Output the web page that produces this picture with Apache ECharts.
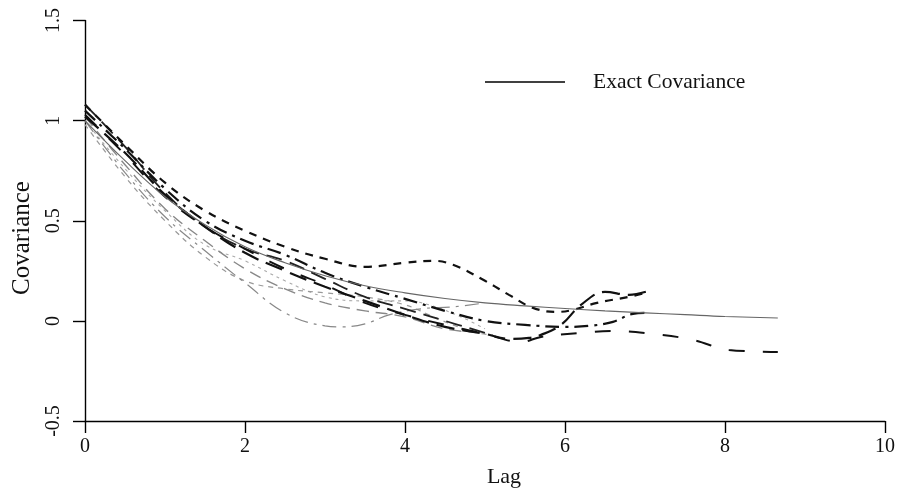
<!DOCTYPE html>
<html>
<head>
<meta charset="utf-8">
<script src="https://cdn.jsdelivr.net/npm/echarts@6/dist/echarts.min.js"></script>
<style>html,body{margin:0;padding:0;background:#fff;}#c{width:898px;height:492px;}</style>
</head>
<body>
<div id="c"></div>
<script>
// ---- Data ----
const xTicks = [0, 2, 4, 6, 8, 10];
const yTicks = [-0.5, 0, 0.5, 1, 1.5];
const legendLabel = 'Exact Covariance';
const xTitle = 'Lag';
const yTitle = 'Covariance';

const exactCov = [[0,1.0],[0.5,0.8],[1,0.62],[1.5,0.48],[2,0.37],[2.5,0.29],[3,0.225],[3.5,0.175],[4,0.14],[4.5,0.112],[5,0.09],[5.5,0.075],[6,0.062],[6.5,0.05],[7,0.04],[7.5,0.031],[8,0.022],[8.66,0.014]];

const simA = [[0,1.08],[0.5,0.88],[1,0.69],[1.5,0.55],[2,0.45],[2.5,0.37],[3,0.31],[3.5,0.27],[4,0.29],[4.35,0.30],[4.6,0.28],[5,0.2],[5.3,0.13],[5.6,0.065],[5.9,0.045],[6.1,0.055],[6.4,0.09],[6.8,0.12],[7.05,0.145]];
const simB = [[0,1.02],[0.5,0.84],[1,0.63],[1.5,0.47],[2,0.34],[2.5,0.25],[3,0.17],[3.5,0.1],[4,0.03],[4.5,-0.03],[5,-0.065],[5.3,-0.09],[5.55,-0.085],[5.7,-0.07],[5.95,-0.02],[6.2,0.08],[6.5,0.145],[6.8,0.13],[7.05,0.15]];
const simC = [[0,1.05],[0.5,0.86],[1,0.66],[1.5,0.5],[2,0.4],[2.5,0.33],[3,0.24],[3.5,0.17],[4,0.11],[4.5,0.05],[5,0.0],[5.5,-0.02],[6,-0.03],[6.3,-0.025],[6.6,-0.005],[6.85,0.035],[7.05,0.04]];
const simD = [[0,1.03],[0.5,0.83],[1,0.62],[1.5,0.47],[2,0.36],[2.5,0.26],[3,0.18],[3.5,0.09],[4,0.03],[4.5,-0.02],[5,-0.065],[5.45,-0.105],[5.7,-0.08],[6.2,-0.06],[6.6,-0.05],[7.1,-0.065],[7.6,-0.095],[8.05,-0.145],[8.66,-0.155]];
const simE = [[0,1.08],[0.5,0.87],[1,0.64],[1.5,0.47],[2,0.36],[2.5,0.3],[3,0.21],[3.5,0.12],[4,0.06],[4.5,0.0],[5,-0.06]];
const simF = [[0,1.0],[0.5,0.74],[1,0.52],[1.5,0.35],[2,0.19],[2.5,0.04],[3,-0.025],[3.2,-0.03],[3.5,-0.015],[3.8,0.03],[4.2,0.06],[4.6,0.07],[5,0.09]];
const simG = [[0,0.98],[0.5,0.72],[1,0.5],[1.5,0.32],[2,0.2],[2.5,0.16],[3,0.14],[3.5,0.12],[4,0.08],[4.3,0.03],[4.6,-0.02],[4.9,-0.06],[5.1,-0.07]];
const simH = [[0,1.02],[0.5,0.78],[1,0.56],[1.5,0.4],[2,0.26],[2.5,0.16],[3,0.09],[3.5,0.05],[4,0.02],[4.5,-0.04],[5,-0.06]];
const simI = [[0,1.0],[0.5,0.76],[1,0.55],[1.5,0.38],[2,0.3],[2.5,0.2],[3,0.12],[3.5,0.1],[4,0.1],[4.3,0.08],[4.7,0.02],[5,-0.04]];

const FONT = 'Liberation Serif';

function sim(name, data, color, width, dash) {
  return {
    name: name, type: 'line', data: data, smooth: 0.4, symbol: 'none', silent: true,
    lineStyle: { color: color, width: width, type: dash },
    z: 2
  };
}

const chart = echarts.init(document.getElementById('c'), null, { renderer: 'canvas' });
chart.setOption({
  animation: false,
  backgroundColor: '#fff',
  grid: { left: 85, right: 12, top: 20.5, bottom: 71, containLabel: false },
  xAxis: {
    type: 'value', min: xTicks[0], max: xTicks[xTicks.length - 1], interval: 2,
    axisLine: { show: true, onZero: false, lineStyle: { color: '#000', width: 1.4 } },
    axisTick: { show: true, length: 12, inside: false, lineStyle: { color: '#000', width: 1.4 } },
    splitLine: { show: false },
    axisLabel: { margin: 16, color: '#111', fontFamily: FONT, fontSize: 20 }
  },
  yAxis: {
    type: 'value', min: yTicks[0], max: yTicks[yTicks.length - 1], interval: 0.5,
    axisLine: { show: true, onZero: false, lineStyle: { color: '#000', width: 1.4 } },
    axisTick: { show: true, length: 12, inside: false, lineStyle: { color: '#000', width: 1.4 } },
    splitLine: { show: false },
    axisLabel: { margin: 21, rotate: 90, color: '#111', fontFamily: FONT, fontSize: 20 }
  },
  graphic: [
    { type: 'text', x: 22, y: 238, rotation: Math.PI / 2,
      style: { text: yTitle, fontFamily: FONT, fontSize: 25, fill: '#111', textAlign: 'center', textVerticalAlign: 'middle' } },
    { type: 'text', x: 504, y: 477,
      style: { text: xTitle, fontFamily: FONT, fontSize: 22, fill: '#111', textAlign: 'center', textVerticalAlign: 'middle' } },
    { type: 'line', shape: { x1: 485, y1: 82, x2: 565, y2: 82 },
      style: { stroke: '#000', lineWidth: 1.5 } },
    { type: 'text', x: 593, y: 82,
      style: { text: legendLabel, fontFamily: FONT, fontSize: 21.5, fill: '#111', textAlign: 'left', textVerticalAlign: 'middle' } }
  ],
  series: [
    sim('simI', simI, '#aaa', 1.1, [3, 4]),
    sim('simG', simG, '#999', 1.2, [5, 5]),
    sim('simH', simH, '#888', 1.4, [12, 7]),
    sim('simF', simF, '#888', 1.2, [14, 6, 3, 6]),
    { name: legendLabel, type: 'line', data: exactCov, smooth: 0.4, symbol: 'none', silent: true,
      lineStyle: { color: '#666', width: 1.1, type: 'solid' }, z: 3 },
    sim('simE', simE, '#222', 1.8, [16, 8]),
    sim('simD', simD, '#111', 2.0, [16, 18]),
    sim('simC', simC, '#111', 2.2, [14, 6, 3, 6]),
    sim('simB', simB, '#111', 2.2, [18, 8]),
    sim('simA', simA, '#111', 2.2, [8, 7])
  ]
});
</script>
</body>
</html>
